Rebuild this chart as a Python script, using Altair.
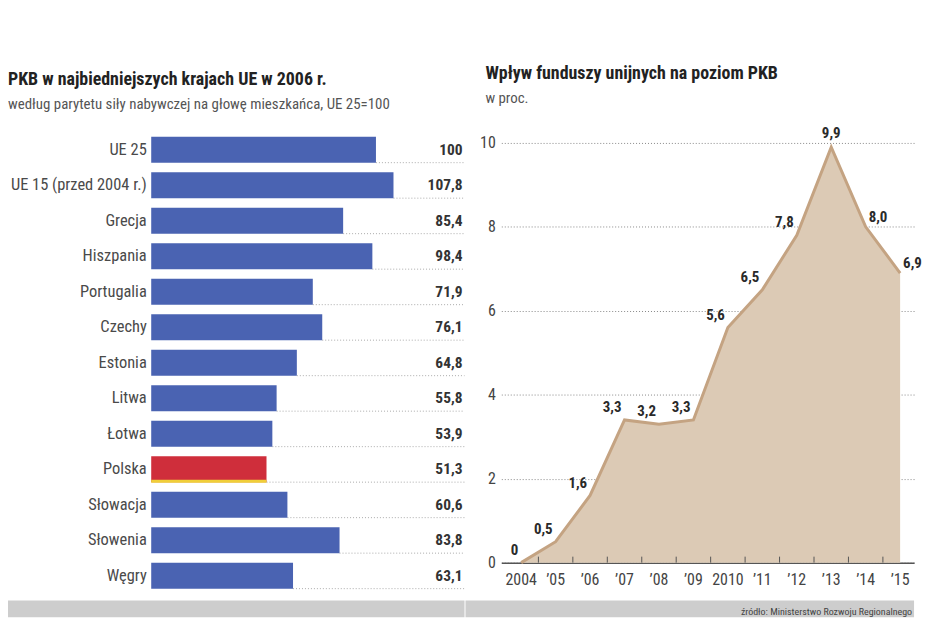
import altair as alt
import pandas as pd

FONT = "Roboto Condensed, Open Sans Condensed, Noto Sans Condensed, Liberation Sans Narrow, DejaVu Sans Condensed, sans-serif"

# ---- left chart data ----
countries = ["UE 25", "UE 15 (przed 2004 r.)", "Grecja", "Hiszpania", "Portugalia",
             "Czechy", "Estonia", "Litwa", "Łotwa", "Polska", "Słowacja", "Słowenia", "Węgry"]
gdp_values = [100, 107.8, 85.4, 98.4, 71.9, 76.1, 64.8, 55.8, 53.9, 51.3, 60.6, 83.8, 63.1]
gdp_labels = ["100", "107,8", "85,4", "98,4", "71,9", "76,1", "64,8", "55,8", "53,9",
              "51,3", "60,6", "83,8", "63,1"]

# ---- right chart data ----
years = [2004, 2005, 2006, 2007, 2008, 2009, 2010, 2011, 2012, 2013, 2014, 2015]
year_labels = ["2004", "\u201905", "\u201906", "\u201907", "\u201908", "\u201909", "2010",
               "\u201911", "\u201912", "\u201913", "\u201914", "\u201915"]
impact = [0, 0.5, 1.6, 3.4, 3.3, 3.4, 5.6, 6.5, 7.8, 9.9, 8.0, 6.9]
impact_labels = ["0", "0,5", "1,6", "3,3", "3,2", "3,3", "5,6", "6,5", "7,8", "9,9", "8,0", "6,9"]
y_ticks = [0, 2, 4, 6, 8, 10]

W_L, H_L = 315, 464
W_R, H_R = 415, 433

left_df = pd.DataFrame({"country": countries, "value": gdp_values, "label": gdp_labels})
right_df = pd.DataFrame({"year": years, "value": impact, "label": impact_labels,
                         "ylabel": year_labels})
one = pd.DataFrame({"a": [0]})

ysc = alt.Y("country:N", sort=None,
            scale=alt.Scale(paddingInner=0.27, paddingOuter=0.135),
            axis=alt.Axis(title=None, domain=False, ticks=False, labelPadding=5,
                          labelFont=FONT, labelFontSize=16.5, labelColor="#4a4a4a"))
xsc = alt.X("value:Q", scale=alt.Scale(domain=[0, 139.4]), axis=None)

lbase = alt.Chart(left_df)
dots = lbase.mark_rule(color="#aaaaaa", strokeDash=[1, 2], yOffset=13).encode(
    y=ysc, x=xsc, x2=alt.value(W_L))
bars = lbase.mark_bar().encode(
    y=ysc, x=xsc,
    color=alt.condition(alt.datum.country == "Polska", alt.value("#cf2e3b"), alt.value("#4a63b2")))
strip = lbase.transform_filter(alt.datum.country == "Polska").mark_rule(
    color="#f0cf3a", strokeWidth=3, yOffset=12).encode(y=ysc, x=xsc, x2=alt.datum(0))
vals = lbase.mark_text(align="right", baseline="middle", font=FONT, fontSize=15.5,
                       fontWeight="bold", color="#333").encode(
    y=ysc, x=alt.value(W_L - 2), text="label:N")
band_l = alt.Chart(one).mark_rect(color="#cdcdcd").encode(
    x=alt.value(-144), x2=alt.value(W_L), y=alt.value(H_L + 7), y2=alt.value(H_L + 24))

left = alt.layer(band_l, dots, bars, strip, vals).properties(
    width=W_L, height=H_L,
    title=alt.TitleParams(
        text="PKB w najbiedniejszych krajach UE w 2006 r.",
        subtitle="według parytetu siły nabywczej na głowę mieszkańca, UE 25=100",
        anchor="start", frame="bounds", font=FONT, fontSize=18, fontWeight="bold",
        color="#222", subtitleFont=FONT, subtitleFontSize=15, subtitleColor="#555",
        subtitlePadding=8, offset=20))

# ---- right chart ----
rx = alt.X("year:Q", scale=alt.Scale(domain=[2003.423, 2015.404], nice=False, zero=False),
           axis=alt.Axis(title=None, values=years, ticks=False, grid=False, labels=False,
                         domainColor="#555", domainWidth=1.5))
ry = alt.Y("value:Q", scale=alt.Scale(domain=[0, 10.26], nice=False),
           axis=alt.Axis(title=None, values=y_ticks, ticks=False, domain=False,
                         grid=True, gridDash=[1, 2], gridColor="#888", gridWidth=1,
                         labelPadding=6, minExtent=16, maxExtent=16,
                         labelFont=FONT, labelFontSize=16, labelColor="#444"))

rbase = alt.Chart(right_df)
area = rbase.mark_area(color="#dccab5", opacity=1, line={"color": "#c4a382", "strokeWidth": 3}).encode(
    x=rx, y=ry)
ticks = rbase.transform_filter(alt.datum.year < 2015).transform_calculate(
    tx="datum.year + 0.5").mark_rule(color="#555", strokeWidth=1).encode(
    x=alt.X("tx:Q"), y=alt.value(H_R), y2=alt.value(H_R - 6))
xlabels = rbase.mark_text(baseline="middle", font=FONT, fontSize=16, color="#444").encode(
    x=rx, y=alt.value(H_R + 17), text="ylabel:N")
txt_style = dict(font=FONT, fontSize=15, fontWeight="bold", color="#2a2a2a")
lab_a = rbase.transform_filter(alt.datum.year < 2013).mark_text(
    align="right", baseline="bottom", dx=-3, dy=-5, **txt_style).encode(x=rx, y=ry, text="label:N")
lab_b = rbase.transform_filter(alt.datum.year == 2013).mark_text(
    align="center", baseline="bottom", dy=-6, **txt_style).encode(x=rx, y=ry, text="label:N")
lab_c = rbase.transform_filter(alt.datum.year > 2013).mark_text(
    align="left", baseline="bottom", dx=3, dy=-2, **txt_style).encode(x=rx, y=ry, text="label:N")
band_r = alt.Chart(one).mark_rect(color="#cdcdcd").encode(
    x=alt.value(-36), x2=alt.value(W_R), y=alt.value(H_R + 38), y2=alt.value(H_R + 55))
source = alt.Chart(one).mark_text(align="right", baseline="middle", font=FONT, fontSize=10,
                                  color="#444").encode(
    x=alt.value(W_R - 2), y=alt.value(H_R + 50), text=alt.value("źródło: Ministerstwo Rozwoju Regionalnego"))

right = alt.layer(band_r, area, ticks, xlabels, lab_a, lab_b, lab_c, source).properties(
    width=W_R, height=H_R,
    title=alt.TitleParams(
        text="Wpływ funduszy unijnych na poziom PKB", subtitle="w proc.",
        anchor="start", frame="group", dx=-16, font=FONT, fontSize=18, fontWeight="bold",
        color="#222", subtitleFont=FONT, subtitleFontSize=15, subtitleColor="#555",
        subtitlePadding=8, offset=20))

chart = alt.hconcat(left, right, spacing=0).properties(
    padding={"left": 0, "top": 56, "right": 0, "bottom": 0},
    background="white"
).configure_view(stroke=None)

chart.save("out.html", embed_options={"renderer": "svg", "actions": False})
